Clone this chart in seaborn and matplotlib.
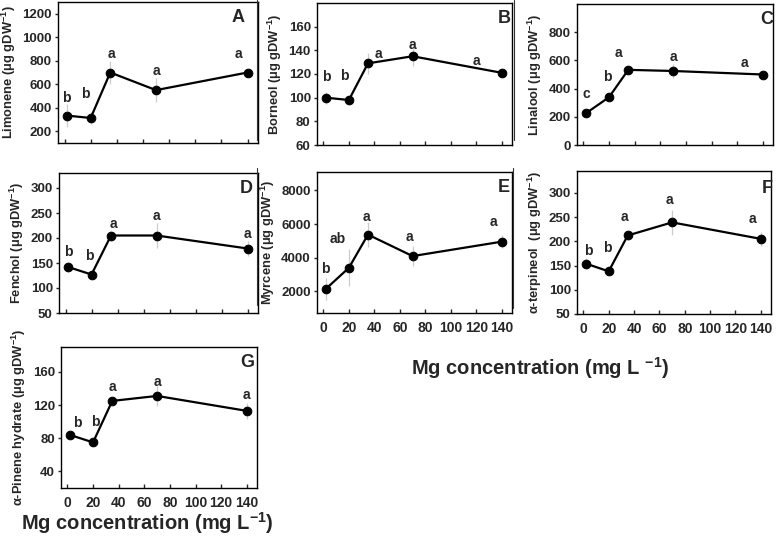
import numpy as np
import pandas as pd
import matplotlib
matplotlib.use("Agg")
import matplotlib.pyplot as plt
from matplotlib.lines import Line2D
import seaborn as sns

sns.set_theme(style='ticks')
plt.rcParams['font.family'] = ['Liberation Sans', 'DejaVu Sans']
plt.rcParams['font.weight'] = 'bold'
plt.rcParams['mathtext.fontset'] = 'custom'
plt.rcParams['mathtext.rm'] = 'Liberation Sans:bold'
plt.rcParams['mathtext.bf'] = 'Liberation Sans:bold'
plt.rcParams['mathtext.default'] = 'bf'

# Mg concentrations (mg/L)
mg = [2, 20, 35, 70, 140]

limonene = [333, 313, 700, 550, 700]
limonene_err = [95, 55, 100, 105, 20]
limonene_sig = ['b', 'b', 'a', 'a', 'a']

borneol = [100, 98, 129, 135, 121]
borneol_err = [5, 3, 9, 8, 3]
borneol_sig = ['b', 'b', 'a', 'a', 'a']

linalool = [225, 339, 533, 525, 500]
linalool_err = [20, 15, 15, 50, 15]
linalool_sig = ['c', 'b', 'a', 'a', 'a']

fenchol = [142, 127, 205, 205, 179]
fenchol_err = [10, 5, 10, 25, 15]
fenchol_sig = ['b', 'b', 'a', 'a', 'a']

myrcene = [2140, 3390, 5370, 4090, 4950]
myrcene_err = [650, 1100, 750, 600, 400]
myrcene_sig = ['b', 'ab', 'a', 'a', 'a']

terpineol = [154, 138, 212, 239, 205]
terpineol_err = [12, 5, 10, 25, 15]
terpineol_sig = ['b', 'b', 'a', 'a', 'a']

pinene = [84, 75, 125, 131, 113]
pinene_err = [5, 3, 5, 12, 10]
pinene_sig = ['b', 'b', 'a', 'a', 'a']

unit = ' (\u03bcg gDW$^{-1}$)'

panels = [
    # letter, name, values, err, sig, ylim, yticks, rect(px: l, t, r, b), xlabels, letter pos, sig offsets(px)
    ('A', 'Limonene', limonene, limonene_err, limonene_sig, (100, 1300), np.arange(200, 1201, 200),
     (58, 2, 258, 143), False, (0.90, 0.89),
     [(-1, 18), (-5, 24), (1, 18), (0, 19), (-9, 18)]),
    ('B', 'Borneol', borneol, borneol_err, borneol_sig, (60, 180), np.arange(60, 161, 20),
     (317, 3, 512, 145), False, (0.96, 0.89),
     [(0, 21), (-5, 24), (10, 9), (0, 11), (-25, 12)]),
    ('C', 'Linalool', linalool, linalool_err, linalool_sig, (0, 1000), np.arange(0, 801, 200),
     (577, 4, 773, 145), False, (0.97, 0.89),
     [(0, 19), (-2, 20), (-10, 17), (0, 14), (-18, 12)]),
    ('D', 'Fenchol', fenchol, fenchol_err, fenchol_sig, (50, 330), np.arange(50, 301, 50),
     (59, 173, 258, 313), False, (0.94, 0.89),
     [(0, 15), (-2, 19), (2, 11), (0, 20), (0, 15)]),
    ('E', 'Myrcene', myrcene, myrcene_err, myrcene_sig, (700, 9100), np.arange(2000, 8001, 2000),
     (317, 172, 512, 313), True, (0.96, 0.89),
     [(-1, 20), (-11, 29), (-2, 18), (-3, 19), (-8, 20)]),
    ('F', '\u03b1-terpineol ', terpineol, terpineol_err, terpineol_sig, (50, 345), np.arange(50, 301, 50),
     (577, 171, 771, 314), True, (0.98, 0.88),
     [(2, 13), (-1, 23), (-3, 18), (-3, 22), (-8, 20)]),
    ('G', '\u03b1-Pinene hydrate', pinene, pinene_err, pinene_sig, (20, 190), np.arange(40, 161, 40),
     (61, 347, 257, 488), True, (0.95, 0.89),
     [(7, 12), (2, 20), (0, 14), (0, 14), (0, 16)]),
]

W, H = 777, 542
fig = plt.figure(figsize=(W / 100, H / 100), dpi=100)

for letter, name, vals, err, sig, ylim, yticks, rect, xlab, lpos, offs in panels:
    l, t, r, b = rect
    ax = fig.add_axes([l / W, 1 - b / H, (r - l) / W, (b - t) / H])
    df = pd.DataFrame({'mg': mg, 'val': vals})
    ax.errorbar(mg, vals, yerr=err, fmt='none', ecolor='#cccccc', elinewidth=0.9, zorder=1)
    sns.lineplot(data=df, x='mg', y='val', ax=ax, color='black', lw=1.6,
                 marker='o', markersize=6.2, markeredgecolor='black', zorder=3)
    for xi, yi, s, (dx, dy) in zip(mg, vals, sig, offs):
        ax.annotate(s, (xi, yi), xytext=(dx, dy), textcoords='offset pixels',
                    ha='center', va='center', fontsize=10, fontweight='bold')
    ax.text(lpos[0], lpos[1], letter, transform=ax.transAxes, ha='center', va='center',
            fontsize=13, fontweight='bold')
    ax.set_xlim(-5, 148)
    ax.set_ylim(*ylim)
    ax.set_xticks(np.arange(0, 141, 20))
    ax.set_yticks(yticks)
    ax.tick_params(axis='x', direction='in', length=3, width=1, labelsize=10, pad=6,
                   labelbottom=xlab)
    ax.tick_params(axis='y', direction='out', length=2.5, width=1, labelsize=9.5, pad=2)
    for lab in ax.get_xticklabels() + ax.get_yticklabels():
        lab.set_fontweight('bold')
    for sp in ax.spines.values():
        sp.set_visible(True)
        sp.set_linewidth(1.0)
        sp.set_color('black')
    ax.set_xlabel('')
    ax.set_ylabel(name.rstrip() + (' ' if name.endswith(' ') else '') + unit,
                  fontsize=9.3, fontweight='bold', labelpad=3)

fig.text(540 / W, 1 - 368 / H, 'Mg concentration (mg L $^{-1}$)', ha='center', va='center',
         fontsize=14.5, fontweight='bold')
fig.text(147 / W, 1 - 523 / H, 'Mg concentration (mg L$^{-1}$)', ha='center', va='center',
         fontsize=14.5, fontweight='bold')

# frame edges left over from the original composite
for x0, y0, y1 in [(257, 0, 140), (514, 0, 140), (257, 168, 305), (513, 168, 308)]:
    fig.add_artist(Line2D([x0 / W, x0 / W], [1 - y0 / H, 1 - y1 / H], color='#333333', lw=0.8))

fig.savefig('out.png', dpi=100)
